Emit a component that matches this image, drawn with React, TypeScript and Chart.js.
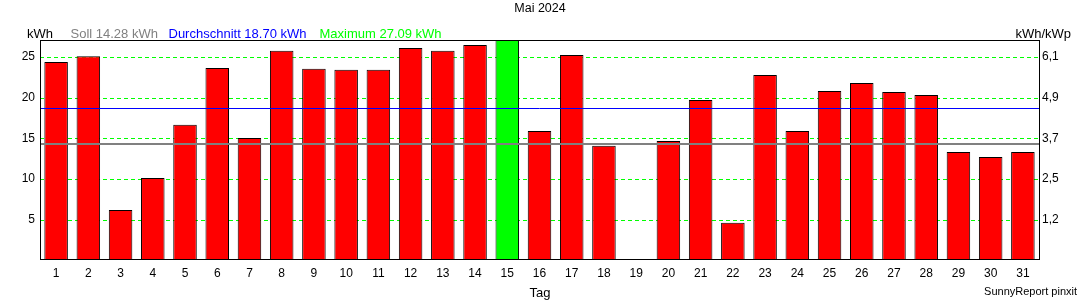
import React, { useEffect, useRef } from "react";
import { Chart, registerables } from "chart.js";

Chart.register(...registerables);

// ---- data ----
const days = [
  "1", "2", "3", "4", "5", "6", "7", "8", "9", "10", "11", "12", "13", "14", "15", "16",
  "17", "18", "19", "20", "21", "22", "23", "24", "25", "26", "27", "28", "29", "30", "31",
];
const yieldKWh = [
  24.38, 25.1, 6.22, 10.15, 16.69, 23.64, 15.05, 25.77, 23.56, 23.44, 23.44, 26.1, 25.77, 26.47, 27.09, 15.91,
  25.24, 14.11, 0, 14.69, 19.72, 4.66, 22.78, 15.91, 20.82, 21.8, 20.7, 20.33, 13.34, 12.72, 13.34,
];
const sollKWh = 14.28;
const averageKWh = 18.7;
const maximumKWh = 27.09;
const leftTicks = [5, 10, 15, 20, 25];
const rightTickLabels = ["1,2", "2,5", "3,7", "4,9", "6,1"];
const chartTitle = "Mai 2024";
const leftUnit = "kWh";
const rightUnit = "kWh/kWp";
const legendSoll = "Soll 14.28 kWh";
const legendAvg = "Durchschnitt 18.70 kWh";
const legendMax = "Maximum 27.09 kWh";
const xTitle = "Tag";
const footer = "SunnyReport pinxit";

const FONT = "'Liberation Sans', Arial, sans-serif";
const RED = "#ff0000";
const GREEN = "#00ff00";
const BLUE = "#0000ff";
const GREY = "#808080";

const maxIndex = yieldKWh.indexOf(Math.max(...yieldKWh));
const barColors = yieldKWh.map((_, i) => (i === maxIndex ? GREEN : RED));

const overlayPlugin = {
  id: "overlay",
  beforeDatasetsDraw(chart: any) {
    const { ctx, chartArea } = chart;
    const y = chart.scales.y;
    const { left, right } = chartArea;
    ctx.save();
    ctx.strokeStyle = GREEN;
    ctx.lineWidth = 1;
    ctx.setLineDash([4, 3]);
    y.ticks.forEach((t: any) => {
      const py = Math.round(y.getPixelForValue(t.value)) + 0.5;
      ctx.beginPath();
      ctx.moveTo(left, py);
      ctx.lineTo(right, py);
      ctx.stroke();
    });
    ctx.restore();
  },
  afterDatasetsDraw(chart: any) {
    const { ctx, chartArea } = chart;
    const y = chart.scales.y;
    const { left, right, top, bottom } = chartArea;
    ctx.save();
    // Soll line
    ctx.strokeStyle = GREY;
    ctx.lineWidth = 2;
    const ys = Math.round(y.getPixelForValue(sollKWh));
    ctx.beginPath();
    ctx.moveTo(left, ys);
    ctx.lineTo(right, ys);
    ctx.stroke();
    // Average line
    ctx.strokeStyle = BLUE;
    ctx.lineWidth = 1;
    const ya = Math.round(y.getPixelForValue(averageKWh)) + 0.5;
    ctx.beginPath();
    ctx.moveTo(left, ya);
    ctx.lineTo(right, ya);
    ctx.stroke();
    // frame
    ctx.strokeStyle = "#000000";
    ctx.lineWidth = 1;
    ctx.strokeRect(Math.round(left) + 0.5, Math.round(top) + 0.5, Math.round(right - left), Math.round(bottom - top));
    ctx.restore();
  },
  afterDraw(chart: any) {
    const { ctx } = chart;
    ctx.save();
    ctx.textBaseline = "alphabetic";
    ctx.fillStyle = "#000000";
    ctx.font = `12.5px ${FONT}`;
    ctx.textAlign = "center";
    ctx.fillText(chartTitle, 540, 12);

    ctx.font = `13px ${FONT}`;
    ctx.textAlign = "left";
    ctx.fillStyle = "#000000";
    ctx.fillText(leftUnit, 27, 38);
    ctx.fillStyle = GREY;
    ctx.fillText(legendSoll, 70.5, 38);
    ctx.fillStyle = BLUE;
    ctx.fillText(legendAvg, 168.5, 38);
    ctx.fillStyle = GREEN;
    ctx.fillText(legendMax, 319.5, 38);

    ctx.fillStyle = "#000000";
    ctx.textAlign = "right";
    ctx.fillText(rightUnit, 1071, 38);

    ctx.textAlign = "center";
    ctx.fillText(xTitle, 540, 297);

    ctx.font = `11px ${FONT}`;
    ctx.textAlign = "right";
    ctx.fillText(footer, 1077, 295);
    ctx.restore();
  },
};

export default function App() {
  const ref = useRef<HTMLCanvasElement | null>(null);

  useEffect(() => {
    if (!ref.current) return;
    const chart = new Chart(ref.current, {
      type: "bar",
      data: {
        labels: days,
        datasets: [
          {
            data: yieldKWh,
            backgroundColor: barColors,
            borderColor: "#000000",
            borderWidth: 1,
            barPercentage: 0.73,
            categoryPercentage: 1,
            yAxisID: "y",
          },
        ],
      },
      options: {
        responsive: false,
        animation: false,
        events: [],
        layout: { padding: { top: 40, left: 0, right: 0, bottom: 0 } },
        plugins: {
          legend: { display: false },
          title: { display: false },
          tooltip: { enabled: false },
        },
        scales: {
          x: {
            type: "category",
            offset: true,
            grid: { display: false, drawTicks: false },
            border: { display: false },
            ticks: {
              color: "#000000",
              font: { family: FONT, size: 12 },
              padding: 7,
              maxRotation: 0,
              autoSkip: false,
            },
            afterFit: (s: any) => {
              s.height = 41;
            },
          },
          y: {
            position: "left",
            min: 0.2,
            max: maximumKWh,
            grid: { display: false, drawTicks: false },
            border: { display: false },
            ticks: {
              color: "#000000",
              font: { family: FONT, size: 12 },
              padding: 5,
            },
            afterBuildTicks: (s: any) => {
              s.ticks = leftTicks.map((v) => ({ value: v }));
            },
            afterFit: (s: any) => {
              s.width = 40;
            },
          },
          y2: {
            position: "right",
            min: 0.2,
            max: maximumKWh,
            grid: { display: false, drawTicks: false },
            border: { display: false },
            ticks: {
              color: "#000000",
              font: { family: FONT, size: 12 },
              padding: 3,
              callback: (_v: any, i: number) => rightTickLabels[i],
            },
            afterBuildTicks: (s: any) => {
              s.ticks = leftTicks.map((v) => ({ value: v }));
            },
            afterFit: (s: any) => {
              s.width = 41;
            },
          },
        },
      },
      plugins: [overlayPlugin],
    });
    return () => chart.destroy();
  }, []);

  return (
    <div style={{ position: "fixed", left: 0, top: 0, width: 1080, height: 300, background: "#ffffff" }}>
      <canvas ref={ref} width={1080} height={300} style={{ display: "block" }} />
    </div>
  );
}
